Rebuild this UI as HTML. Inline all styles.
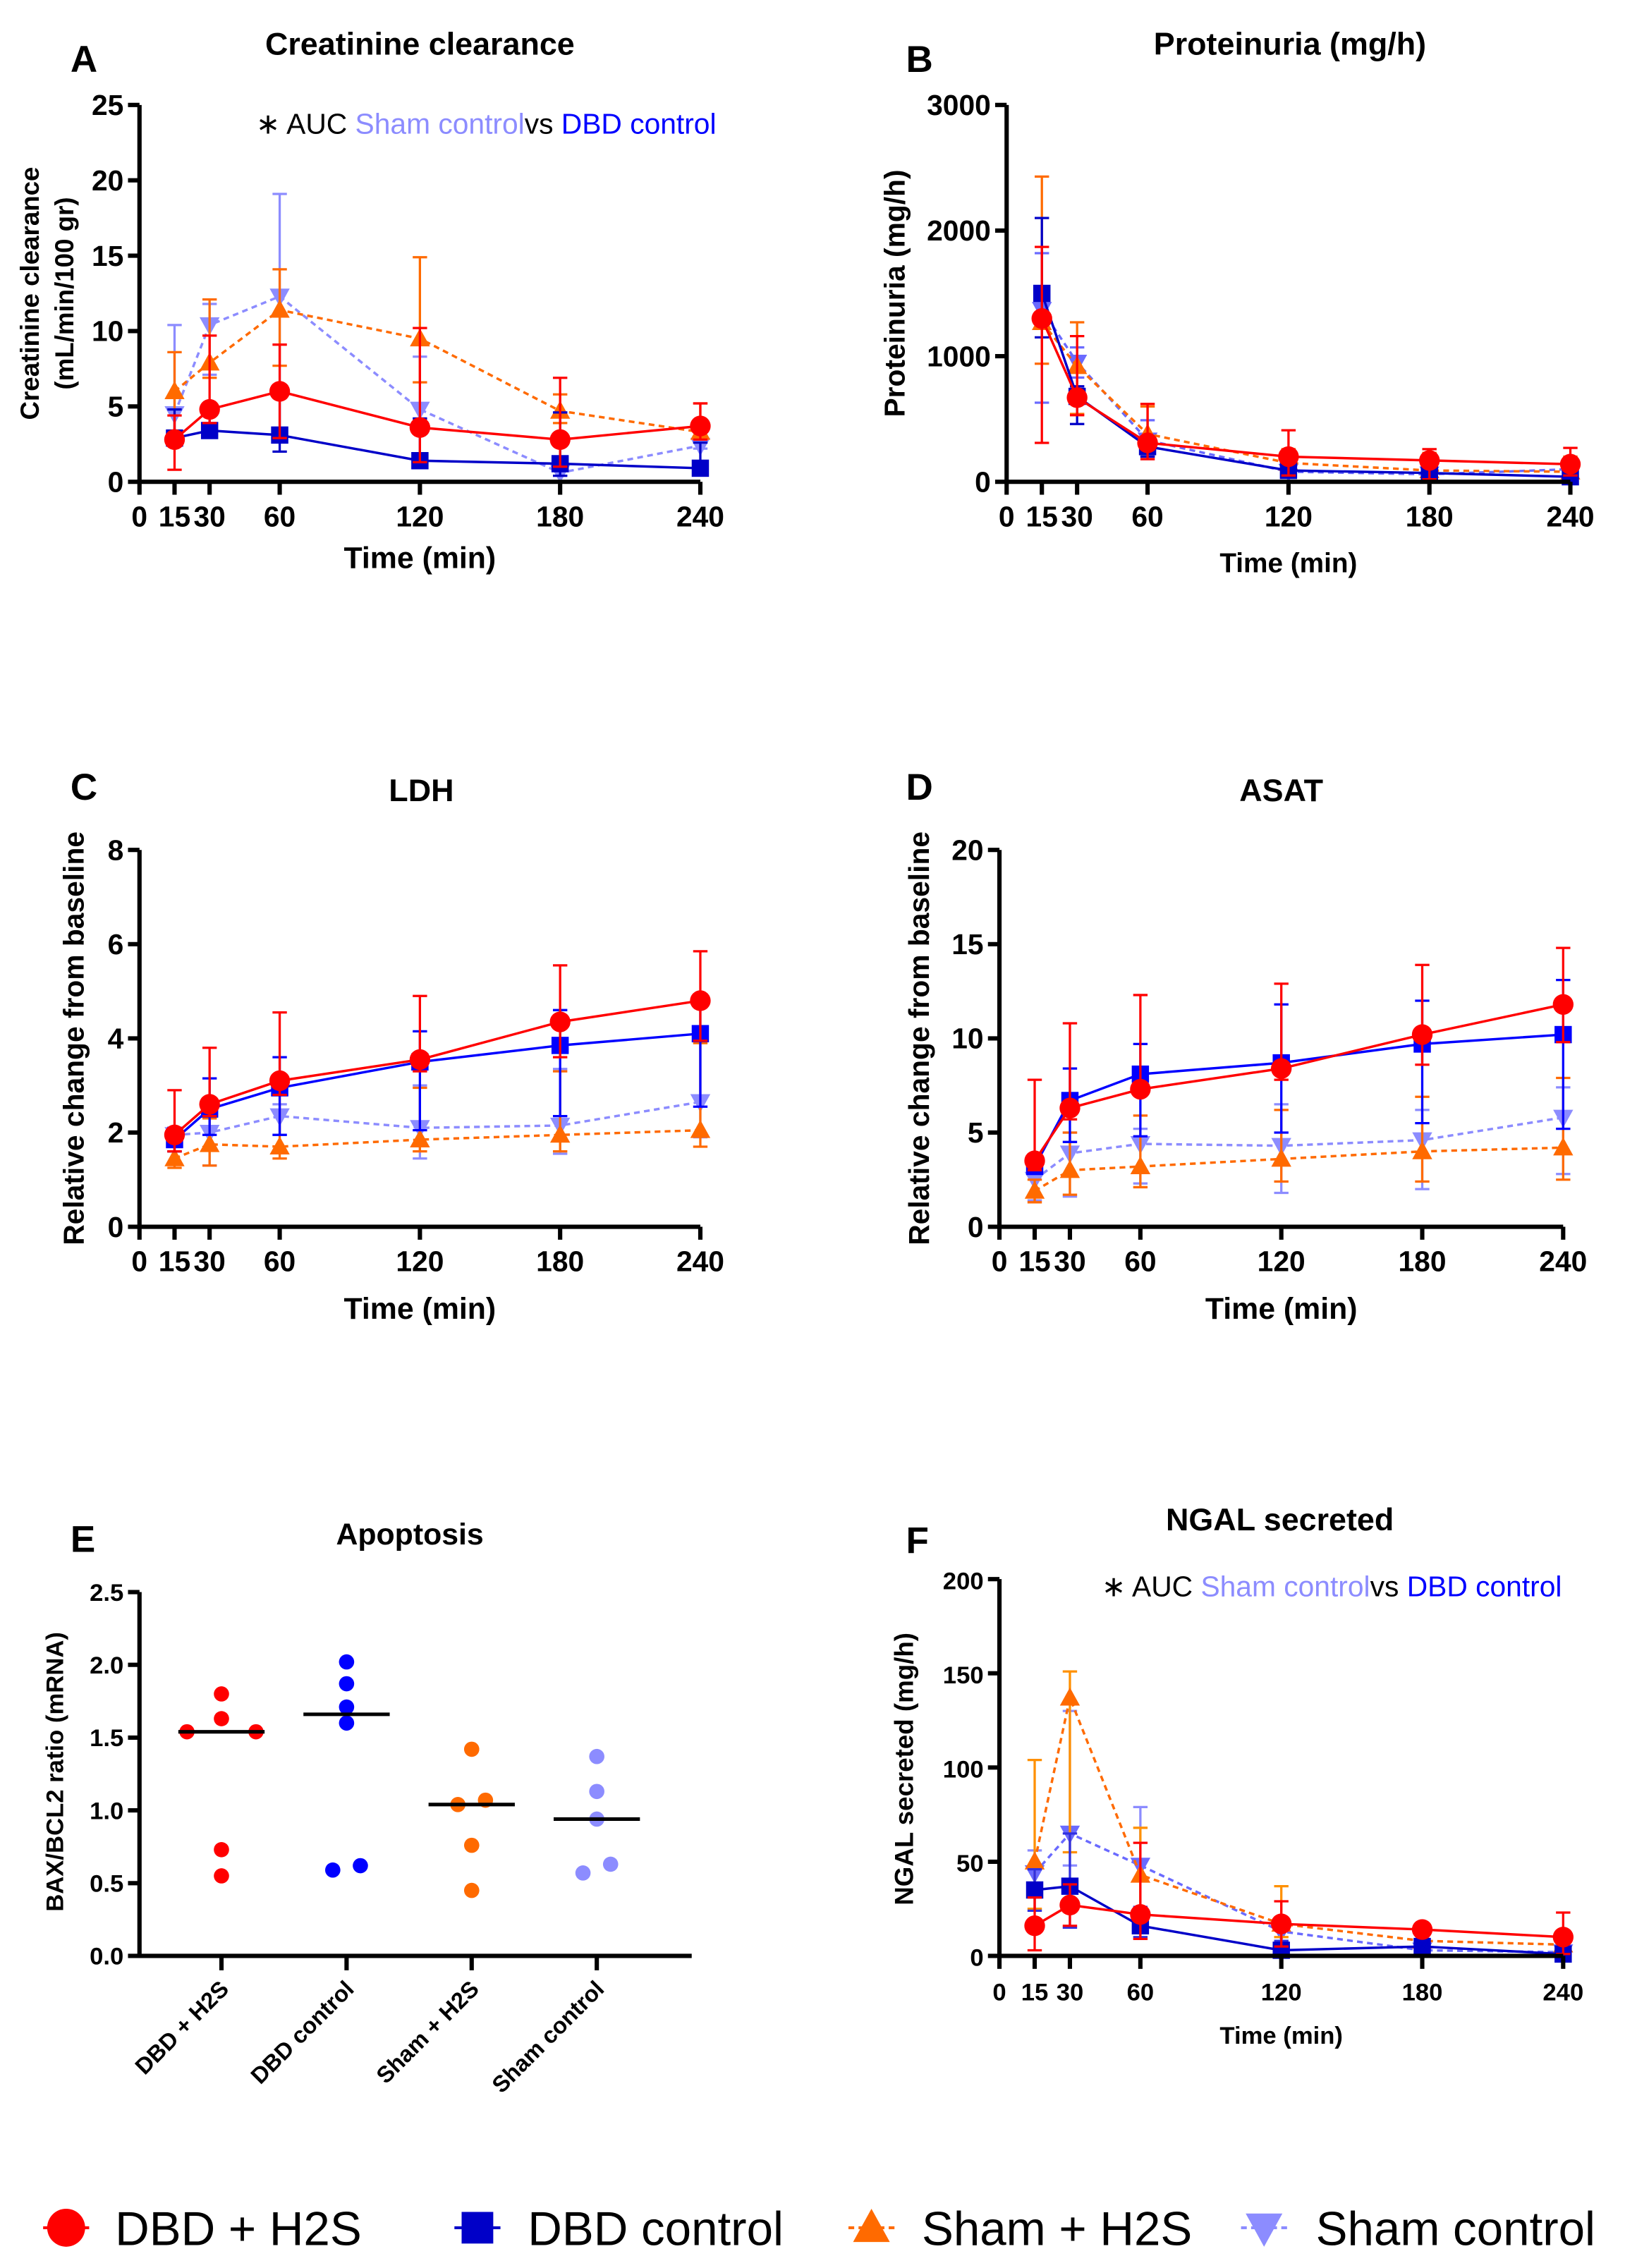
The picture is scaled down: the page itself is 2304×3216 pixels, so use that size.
<!DOCTYPE html>
<html><head><meta charset="utf-8">
<style>
html,body{margin:0;padding:0;background:#fff;}
svg{display:block;}
text{font-family:"Liberation Sans",Arial,sans-serif;}
.nar{font-family:"Liberation Sans Narrow","Liberation Sans",sans-serif;font-weight:bold;}
.b{font-weight:bold;}
</style></head>
<body>
<svg id="fig" width="2304" height="3216" viewBox="0 0 1130 1577" preserveAspectRatio="none" xmlns="http://www.w3.org/2000/svg"></svg>
<script>
// ---------- data ----------
const times = [15,30,60,120,180,240];
// A Creatinine clearance
const aRed=[2.8,4.8,6.0,3.6,2.8,3.7], aRedHi=[4.4,9.7,9.1,10.2,6.9,5.2], aRedLo=[0.8,3.9,2.9,1.3,1.0,2.8];
const aBlue=[2.9,3.4,3.1,1.4,1.2,0.9], aBlueHi=[4.8,5.0,6.4,4.2,4.6,2.6], aBlueLo=[2.6,3.0,2.0,1.0,0.4,0.9];
const aOr=[6.0,7.9,11.4,9.5,4.7,3.3], aOrHi=[8.6,12.1,14.1,14.9,5.8,5.2], aOrLo=[3.4,6.9,7.7,6.6,3.9,3.0];
const aSh=[4.5,10.4,12.3,4.8,0.6,2.4], aShHi=[10.4,11.8,19.1,8.3,4.6,2.6], aShLo=[2.5,7.1,6.0,3.2,0.4,2.2];
const aTicks=[0,5,10,15,20,25];
// B Proteinuria
const bRed=[1300,670,310,200,170,140], bRedHi=[1870,1160,620,410,260,270], bRedLo=[310,530,180,50,20,50];
const bBlue=[1500,680,280,90,70,40], bBlueHi=[2100,760,350,130,110,70], bBlueLo=[1150,460,200,40,20,10];
const bOr=[1270,920,380,150,90,80], bOrHi=[2430,1270,600,260,230,200], bOrLo=[940,540,200,60,20,30];
const bSh=[1370,950,330,80,60,100], bShHi=[1820,1070,490,160,200,180], bShLo=[630,830,200,40,20,50];
const bTicks=[0,1000,2000,3000];
// C LDH
const cRed=[1.95,2.6,3.1,3.55,4.35,4.8], cRedHi=[2.9,3.8,4.55,4.9,5.55,5.85], cRedLo=[1.6,2.35,2.8,3.3,3.6,3.95];
const cBlue=[1.85,2.5,2.95,3.5,3.85,4.1], cBlueHi=[2.1,3.15,3.6,4.15,4.6,4.7], cBlueLo=[1.6,1.95,1.95,2.05,2.35,2.55];
const cOr=[1.45,1.75,1.7,1.85,1.95,2.05], cOrHi=[1.6,2.3,2.8,2.95,3.3,3.9], cOrLo=[1.25,1.3,1.45,1.6,1.6,1.7];
const cSh=[1.95,2.0,2.35,2.1,2.15,2.65], cShHi=[2.1,2.5,2.6,3.0,3.35,4.0], cShLo=[1.6,1.3,1.95,1.45,1.55,1.9];
const cTicks=[0,2,4,6,8];
// D ASAT
const dRed=[3.5,6.3,7.3,8.4,10.2,11.8], dRedHi=[7.8,10.8,12.3,12.9,13.9,14.8], dRedLo=[3.0,5.7,7.0,7.8,8.6,9.8];
const dBlue=[3.2,6.7,8.1,8.7,9.7,10.2], dBlueHi=[3.4,8.4,9.7,11.8,12.0,13.1], dBlueLo=[2.9,4.5,4.8,5.0,5.5,5.2];
const dOr=[1.9,3.0,3.2,3.6,4.0,4.2], dOrHi=[2.5,5.0,5.9,6.2,6.9,7.9], dOrLo=[1.3,1.7,2.1,2.4,2.4,2.5];
const dSh=[2.5,3.9,4.4,4.3,4.6,5.8], dShHi=[3.0,5.0,5.2,6.5,6.2,7.4], dShLo=[1.4,1.6,2.3,1.8,2.0,2.8];
const dTicks=[0,5,10,15,20];
// F NGAL
const fRed=[16,27,22,17,14,10], fRedHi=[31,38,60,29,17,23], fRedLo=[3,16,9,5,11,1];
const fBlue=[35,37,16,3,5,1], fBlueHi=[46,65,26,8,9,3], fBlueLo=[24,15,10,0,1,0];
const fOr=[50,137,43,17,8,6], fOrHi=[104,151,68,37,17,10], fOrLo=[25,55,13,10,2,2];
const fSh=[44,65,48,13,3,2], fShHi=[56,130,79,20,8,6], fShLo=[32,48,25,6,0,0];
const fTicks=[0,50,100,150,200];
// E Apoptosis
const eGroups=["DBD + H2S","DBD control","Sham + H2S","Sham control"];
const eVals=[[1.80,1.63,1.54,1.54,0.73,0.55],[2.02,1.87,1.71,1.60,0.59,0.62],[1.42,1.04,1.07,0.76,0.45],[1.37,1.13,0.94,0.57,0.63]];
const eJit=[[0,0,-1,1,0,0],[0,0,0,0,-0.4,0.4],[0,-0.4,0.4,0,0],[0,0,0,-0.4,0.4]];
const eMed=[1.54,1.66,1.04,0.94];
const eTicks=["0.0","0.5","1.0","1.5","2.0","2.5"];

// ---------- helpers ----------
const NS="http://www.w3.org/2000/svg";
const svg=document.getElementById('fig');
function el(tag,attrs,parent){const e=document.createElementNS(NS,tag);for(const k in attrs)e.setAttribute(k,attrs[k]);(parent||svg).appendChild(e);return e;}
function txt(s,attrs,parent){const t=el('text',attrs,parent);t.textContent=s;return t;}
const RED='#ff0000', BLUE='#0000c8', OR='#ff6a00', SH='#8c8cff';
const LC={sham:'#8c8cff',dbd:'#0000ff'};

function marker(g,type,x,y,color,s){
  let m;
  if(type==='circle'){m=el('circle',{cx:x,cy:y,r:s*0.6,fill:color},g);}
  else if(type==='square'){m=el('rect',{x:x-s*0.5,y:y-s*0.5,width:s,height:s,fill:color},g);}
  else if(type==='up'){m=el('polygon',{points:`${x},${y-s*0.6} ${x-s*0.58},${y+s*0.45} ${x+s*0.58},${y+s*0.45}`,fill:color},g);}
  else {m=el('polygon',{points:`${x},${y+s*0.6} ${x-s*0.58},${y-s*0.45} ${x+s*0.58},${y-s*0.45}`,fill:color},g);}
  
  
}

function timePanel(cfg){
  const g=el('g',{});
  
  
  const X=t=>cfg.x0+t*(cfg.x1-cfg.x0)/240;
  const Y=v=>cfg.y0-v*(cfg.y0-cfg.yt)/cfg.ymax;
  cfg.series.forEach(s=>{
    const sg=el('g',{},g);
    
    
    times.forEach((t,i)=>{
      const x=X(t);
      const eb=el('path',{d:`M${x},${Y(s.hi[i])}V${Y(s.lo[i])}M${x-5},${Y(s.hi[i])}h10M${x-5},${Y(s.lo[i])}h10`,stroke:s.ecol||s.color,'stroke-width':1.6,fill:'none'},sg);
      
      
    });
    const pts=times.map((t,i)=>X(t)+','+Y(s.mean[i])).join(' ');
    const ln=el('polyline',{points:pts,fill:'none',stroke:s.color,'stroke-width':1.7,'stroke-dasharray':s.dash?'4,3':'none'},sg);
    
    
    times.forEach((t,i)=>marker(sg,s.marker,X(t),Y(s.mean[i]),s.color,s.msize||12));
  });
  const ax=el('path',{d:`M${cfg.x0},${cfg.yt}V${cfg.y0}H${cfg.x1}`,stroke:'#000','stroke-width':3,fill:'none'},g);
  
  
  cfg.ticks.forEach(v=>{
    el('line',{x1:cfg.x0-8,x2:cfg.x0,y1:Y(v),y2:Y(v),stroke:'#000','stroke-width':3},g);
    const t=txt(String(v),{x:cfg.x0-11,y:Y(v)+7,'text-anchor':'end','font-size':cfg.tfs||20,class:cfg.narrow?'nar':'b'},g);
    
    
  });
  [0].concat(times).forEach(tv=>{
    el('line',{x1:X(tv),x2:X(tv),y1:cfg.y0,y2:cfg.y0+9,stroke:'#000','stroke-width':3},g);
    const t=txt(String(tv),{x:X(tv),y:cfg.y0+31,'text-anchor':'middle','font-size':cfg.tfs||20,class:cfg.narrow?'nar':'b'},g);
    
    
  });
  const xt=txt('Time (min)',{x:(cfg.x0+cfg.x1)/2,y:cfg.xty,'text-anchor':'middle','font-size':cfg.xtfs||21,class:cfg.narrow?'nar':'b'},g);
  
  
  const tt=txt(cfg.title,{x:cfg.tx,y:cfg.ty,'text-anchor':'middle','font-size':22,class:'b'},g);
  
  
  const lt=txt(cfg.letter,{x:cfg.lx,y:cfg.ly,'font-size':26,class:'b'},g);
  
  
  cfg.ylab.forEach((l,i)=>{
    const yl=txt(l,{x:0,y:0,'text-anchor':'middle','font-size':cfg.ylfs||20,class:'b',transform:`translate(${cfg.ylx+i*24},${cfg.yly}) rotate(-90)`},g);
    
    
  });
  if(cfg.auc){
    const a=txt('',{x:cfg.auc[0],y:cfg.auc[1],'font-size':20},g);
    
    
    const parts=[['∗ AUC ','#000'],['Sham control',LC.sham],['vs ','#000'],['DBD control',LC.dbd]];
    parts.forEach(p=>{const ts=el('tspan',{fill:p[1]},a);ts.textContent=p[0];});
  }
}
function S(name,mean,hi,lo,color,marker,dash,ecol){return {name,mean,hi,lo,color,marker,dash,ecol};}

timePanel({name:'panel-a-creatinine',x0:97,x1:487,y0:335,yt:73,ymax:25,ticks:aTicks,narrow:true,title:'Creatinine clearance',tx:292,ty:38,letter:'A',lx:49,ly:50,xty:395,
  ylab:['Creatinine clearance','(mL/min/100 gr)'],ylx:27,yly:204,ylfs:18,auc:[178,93],
  series:[S('sham-control',aSh,aShHi,aShLo,SH,'down',true),S('sham-h2s',aOr,aOrHi,aOrLo,OR,'up',true),S('dbd-control',aBlue,aBlueHi,aBlueLo,BLUE,'square',false),S('dbd-h2s',aRed,aRedHi,aRedLo,RED,'circle',false)]});
timePanel({name:'panel-b-proteinuria',x0:700,x1:1092,y0:335,yt:73,ymax:3000,ticks:bTicks,narrow:true,title:'Proteinuria (mg/h)',tx:897,ty:38,letter:'B',lx:630,ly:50,xty:398,xtfs:19,
  ylab:['Proteinuria (mg/h)'],ylx:629,yly:204,
  series:[S('sham-control',bSh,bShHi,bShLo,'#6a6aff','down',true),S('sham-h2s',bOr,bOrHi,bOrLo,OR,'up',true),S('dbd-control',bBlue,bBlueHi,bBlueLo,BLUE,'square',false),S('dbd-h2s',bRed,bRedHi,bRedLo,RED,'circle',false)]});
timePanel({name:'panel-c-ldh',x0:97,x1:487,y0:853,yt:591,ymax:8,ticks:cTicks,narrow:true,title:'LDH',tx:293,ty:557,letter:'C',lx:49,ly:556,xty:917,
  ylab:['Relative change from baseline'],ylx:58,yly:722,
  series:[S('sham-control',cSh,cShHi,cShLo,SH,'down',true),S('sham-h2s',cOr,cOrHi,cOrLo,OR,'up',true),S('dbd-control',cBlue,cBlueHi,cBlueLo,'#0000ff','square',false),S('dbd-h2s',cRed,cRedHi,cRedLo,RED,'circle',false)]});
timePanel({name:'panel-d-asat',x0:695,x1:1087,y0:853,yt:591,ymax:20,ticks:dTicks,narrow:true,title:'ASAT',tx:891,ty:557,letter:'D',lx:630,ly:556,xty:917,
  ylab:['Relative change from baseline'],ylx:646,yly:722,
  series:[S('sham-control',dSh,dShHi,dShLo,SH,'down',true),S('sham-h2s',dOr,dOrHi,dOrLo,OR,'up',true),S('dbd-control',dBlue,dBlueHi,dBlueLo,'#0000ff','square',false),S('dbd-h2s',dRed,dRedHi,dRedLo,RED,'circle',false)]});
timePanel({name:'panel-f-ngal',x0:695,x1:1087,y0:1360,yt:1098,ymax:200,ticks:fTicks,narrow:false,tfs:17,title:'NGAL secreted',tx:890,ty:1064,letter:'F',lx:630,ly:1080,xty:1421,xtfs:17,
  ylab:['NGAL  secreted (mg/h)'],ylx:635,yly:1230,ylfs:18,auc:[766,1110],
  series:[S('sham-control',fSh,fShHi,fShLo,'#6a6aff','down',true,SH),S('sham-h2s',fOr,fOrHi,fOrLo,OR,'up',true,'#ff9000'),S('dbd-control',fBlue,fBlueHi,fBlueLo,BLUE,'square',false,'#3030e0'),S('dbd-h2s',fRed,fRedHi,fRedLo,RED,'circle',false)]});

// ---------- Panel E ----------
(function(){
  const g=el('g',{});
  
  
  const x0=97,x1=481,y0=1360,yt=1107,ymax=2.5;
  const Y=v=>y0-v*(y0-yt)/ymax;
  const cx=i=>154+i*87;
  const cols=['#ff0000','#0000ff','#ff6a00','#8c8cff'];
  eVals.forEach((arr,gi)=>{
    const sg=el('g',{},g);
    
    
    arr.forEach((v,j)=>{
      const c=el('circle',{cx:cx(gi)+eJit[gi][j]*24,cy:Y(v),r:5.3,fill:cols[gi]},sg);
      
      
    });
    const m=el('line',{x1:cx(gi)-30,x2:cx(gi)+30,y1:Y(eMed[gi]),y2:Y(eMed[gi]),stroke:'#000','stroke-width':2.5},sg);
    
    
  });
  const ax=el('path',{d:`M${x0},${yt}V${y0}H${x1}`,stroke:'#000','stroke-width':3,fill:'none'},g);
  
  
  eTicks.forEach(s=>{
    const v=parseFloat(s);
    el('line',{x1:x0-8,x2:x0,y1:Y(v),y2:Y(v),stroke:'#000','stroke-width':3},g);
    const t=txt(s,{x:x0-11,y:Y(v)+6,'text-anchor':'end','font-size':17,class:'b'},g);
    
    
  });
  eGroups.forEach((s,i)=>{
    el('line',{x1:cx(i),x2:cx(i),y1:y0,y2:y0+10,stroke:'#000','stroke-width':3},g);
    const t=txt(s,{x:0,y:0,'text-anchor':'end','font-size':16,class:'b',transform:`translate(${cx(i)+6},${y0+24}) rotate(-45)`},g);
    
    
  });
  const yl=txt('BAX/BCL2 ratio (mRNA)',{x:0,y:0,'text-anchor':'middle','font-size':17,class:'b',transform:'translate(44,1232) rotate(-90)'},g);
  
  
  const tt=txt('Apoptosis',{x:285,y:1074,'text-anchor':'middle','font-size':21,class:'b'},g);
  
  
  const lt=txt('E',{x:49,y:1079,'font-size':26,class:'b'},g);
  
  
})();

// ---------- Legend ----------
(function(){
  const g=el('g',{});
  
  
  const items=[['DBD + H2S',RED,'circle',false,30,80],['DBD control','#0000c8','square',false,316,367],['Sham + H2S',OR,'up',true,590,641],['Sham control',SH,'down',true,863,915]];
  items.forEach(it=>{
    const eg=el('g',{},g);
    
    
    el('line',{x1:it[4],x2:it[4]+32,y1:1549,y2:1549,stroke:it[1],'stroke-width':2,'stroke-dasharray':it[3]?'4,3':'none'},eg);
    marker(eg,it[2],it[4]+16,1549,it[1],22);
    txt(it[0],{x:it[5],y:1561,'font-size':33},eg);
  });
})();
</script>
</body></html>
